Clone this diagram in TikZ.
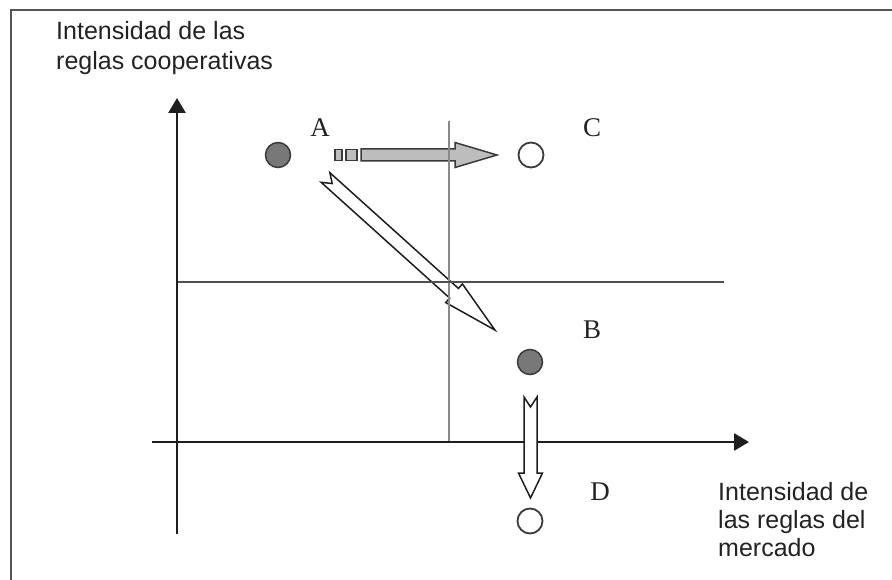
\documentclass[tikz,border=0pt]{standalone}
\usepackage{fontspec}
\setmainfont{Liberation Serif}
\newfontfamily\arialf{Liberation Sans}
\usetikzlibrary{arrows.meta}
\definecolor{framec}{HTML}{555555}
\definecolor{axisc}{HTML}{1E1E1E}
\definecolor{gridv}{HTML}{8A8A8A}
\definecolor{gridh}{HTML}{505050}
\definecolor{dotfill}{HTML}{787878}
\definecolor{dotline}{HTML}{3A3A3A}
\definecolor{garrow}{HTML}{BDBDBD}
\definecolor{txtc}{HTML}{222222}
\begin{document}
\begin{tikzpicture}[x=1pt,y=-1pt,
  axisline/.style={line width=2.8pt, draw=axisc, -{Triangle[length=15pt,width=17pt]}},
  fulldot/.style={circle, minimum size=25pt, inner sep=0pt, fill=dotfill, draw=dotline, line width=1.5pt},
  emptydot/.style={circle, minimum size=25pt, inner sep=0pt, fill=white, draw=dotline, line width=1.8pt},
  letter/.style={font=\fontsize{27}{30}\selectfont, text=txtc, inner sep=0pt},
  axislabel/.style={font=\arialf\fontsize{25}{30}\selectfont, text=txtc, inner sep=0pt, align=left, anchor=north west},
  blockgray/.style={fill=garrow, draw=dotline, line width=1.5pt, line join=miter},
  blockwhite/.style={fill=white, draw=axisc, line width=1.5pt, line join=miter}
]
\useasboundingbox (0,0) rectangle (892,580);
\clip (0,0) rectangle (892,580);
% frame
\draw[framec, line width=2pt] (11,10) rectangle (905,600);

% points
\coordinate (Ac) at (278,155);
\coordinate (Cc) at (531,155);
\coordinate (Bc) at (530,362);
\coordinate (Dc) at (530,521);

% gray arrow A -> C
\begin{scope}[shift={(Ac)}]
  \draw[blockgray] (57,-5.5) rectangle (64,5.5);
  \draw[blockgray] (68,-5.5) rectangle (79,5.5);
  \draw[blockgray] (83,-6) -- (177,-6) -- (177,-12.5) -- (219,0) -- (177,12.5) -- (177,6) -- (83,6) -- cycle;
\end{scope}

% diagonal arrow A -> B
\coordinate (dtail) at (325.5,177.5);
\begin{scope}[shift={(dtail)}, rotate=-42]
  \draw[blockwhite] (0,6.5) -- (173,6.5) -- (173,12.5) -- (228,0) -- (173,-12.5) -- (173,-6.5) -- (0,-6.5) -- (9,0) -- cycle;
\end{scope}

% grid lines
\coordinate (gv1) at (449,121);
\coordinate (gv2) at (449,442);
\coordinate (gh1) at (177,282);
\coordinate (gh2) at (724,282);
\draw[gridv, line width=1.2pt] (gv1) -- (gv2);
\draw[gridh, line width=1.6pt] (gh1) -- (gh2);

% axes
\coordinate (xo) at (152,442);
\coordinate (xe) at (749,442);
\coordinate (yo) at (177,534);
\coordinate (ye) at (177,98);
\draw[axisline] (xo) -- (xe);
\draw[axisline] (yo) -- (ye);

% down arrow B -> D
\coordinate (vtail) at (530.5,397);
\begin{scope}[shift={(vtail)}, rotate=-90]
  \draw[blockwhite] (0,6.5) -- (76,6.5) -- (76,12) -- (101,0) -- (76,-12) -- (76,-6.5) -- (0,-6.5) -- (10,0) -- cycle;
\end{scope}

% dots
\node[fulldot] (A) at (Ac) {};
\node[emptydot] (C) at (Cc) {};
\node[fulldot] (B) at (Bc) {};
\node[emptydot] (D) at (Dc) {};

% letters
\node[letter] (lA) at (320,128) {A};
\node[letter] (lC) at (592,128) {C};
\node[letter] (lB) at (592,330) {B};
\node[letter] (lD) at (600,492) {D};

% axis labels
\node[axislabel] (ylab) at (56,21) {Intensidad de las\\reglas cooperativas};
\node[axislabel, font=\arialf\fontsize{25}{28}\selectfont] (xlab) at (718,482) {Intensidad de\\las reglas del\\mercado};
\end{tikzpicture}
\end{document}
